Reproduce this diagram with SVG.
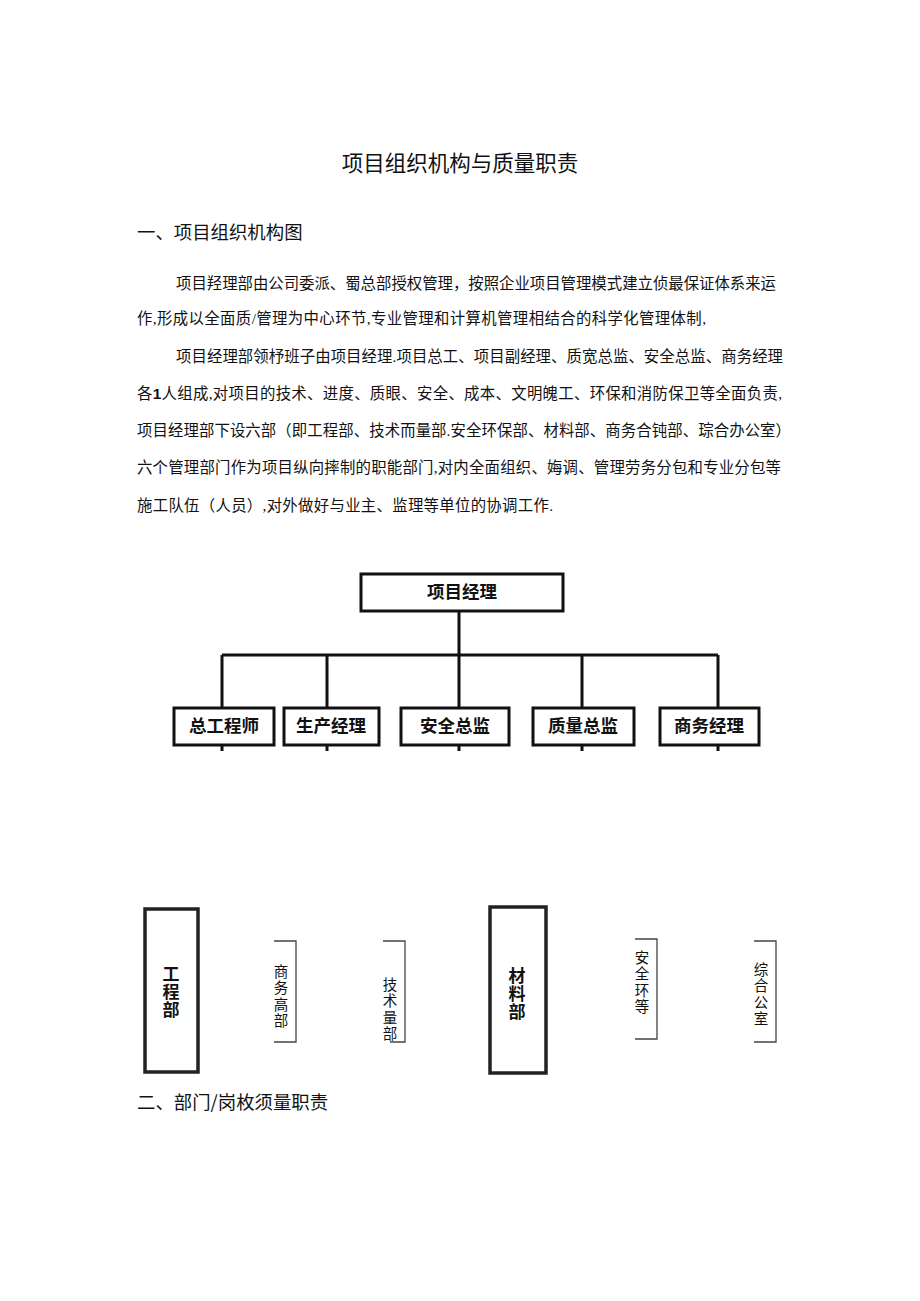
<svg xmlns="http://www.w3.org/2000/svg" width="920" height="1301" viewBox="0 0 920 1301">
<style>
.t{font-family:"Noto Sans CJK SC","Noto Sans",sans-serif;fill:#111}
.p{font-family:"Liberation Serif","Noto Sans CJK SC",serif;font-size:15.4px;fill:#111}
.b{font-family:"Noto Sans CJK SC",sans-serif;font-weight:bold;font-size:17.5px;fill:#111;text-anchor:middle}
.vb{font-family:"Noto Sans CJK SC",sans-serif;font-weight:bold;font-size:17px;fill:#111;writing-mode:vertical-rl;letter-spacing:1px}
.v{font-family:"Noto Sans CJK SC",sans-serif;font-size:14.5px;fill:#111;writing-mode:vertical-rl;letter-spacing:2px}
.box{fill:#fff;stroke:#111;stroke-width:3}
.vbox{fill:#fff;stroke:#222;stroke-width:3.5}
.ln{fill:none;stroke:#111;stroke-width:3}
.br{fill:none;stroke:#444;stroke-width:1.3}
</style>
<rect width="920" height="1301" fill="#fff"/>
<text class="t" x="460" y="171" font-size="21.5" text-anchor="middle">项目组织机构与质量职责</text>
<text class="t" x="137" y="239" font-size="18.4">一、项目组织机构图</text>
<g id="body">
<text class="p" x="176" y="288.5" textLength="600" lengthAdjust="spacing">项目羟理部由公司委派、蜀总部授权管理，按照企业项目管理模式建立侦最保证体系来运</text>
<text class="p" x="137" y="323.5" textLength="569" lengthAdjust="spacing">作,形成以全面质/管理为中心环节,专业管理和计算机管理相结合的科学化管理体制,</text>
<text class="p" x="176" y="361.5" textLength="607" lengthAdjust="spacing">项目经理部领杼班子由项目经理.项目总工、项目副经理、质宽总监、安全总监、商务经理</text>
<text class="p" x="137" y="398.5" textLength="645" lengthAdjust="spacing">各<tspan font-weight="bold" font-family="Liberation Sans">1</tspan>人组成,对项目的技术、进度、质眼、安全、成本、文明魄工、环保和消防保卫等全面负责,</text>
<text class="p" x="137" y="435.5" textLength="654" lengthAdjust="spacing">项目经理部下设六部（即工程部、技术而量部.安全环保部、材料部、商务合钝部、琮合办公室）</text>
<text class="p" x="137" y="472.5" textLength="644" lengthAdjust="spacing">六个管理部门作为项目纵向摔制的职能部门,对内全面组织、娒调、管理劳务分包和专业分包等</text>
<text class="p" x="137" y="510.5" textLength="416" lengthAdjust="spacing">施工队伍（人员）,对外做好与业主、监理等单位的协调工作.</text>
</g>
<g id="connectors">
<path class="ln" d="M459 611V655M222 655H718M222 655V707M327 655V707M459 655V707M582 655V707M718 655V707"/>
<path class="ln" d="M222 745V751M327 745V751M459 745V751M582 745V751M718 745V751" stroke-width="2"/>
</g>
<g id="n-pm"><rect class="box" x="361" y="574" width="202" height="37"/><text class="b" x="462" y="598">项目经理</text></g>
<g id="n-zgcs"><rect class="box" x="174" y="708" width="100" height="37"/><text class="b" x="224" y="732">总工程师</text></g>
<g id="n-scjl"><rect class="box" x="284" y="708" width="95" height="37"/><text class="b" x="331" y="732">生产经理</text></g>
<g id="n-aqzj"><rect class="box" x="401" y="708" width="108" height="37"/><text class="b" x="455" y="732">安全总监</text></g>
<g id="n-zlzj"><rect class="box" x="533" y="708" width="101" height="37"/><text class="b" x="583" y="732">质量总监</text></g>
<g id="n-swjl"><rect class="box" x="660" y="708" width="99" height="37"/><text class="b" x="709" y="732">商务经理</text></g>
<g id="n-gcb"><rect class="vbox" x="145" y="909" width="53" height="163"/>
<text class="vb" x="171" y="965">工程部</text></g>
<g id="n-swb"><path class="br" d="M274 941H296V1042H274"/>
<text class="v" x="281" y="964">商务高部</text></g>
<g id="n-jsb"><path class="br" d="M383 941H405V1042H390"/>
<text class="v" x="390" y="977">技术量部</text></g>
<g id="n-clb"><rect class="vbox" x="490" y="907" width="56" height="166"/>
<text class="vb" x="517" y="967">材料部</text></g>
<g id="n-aqb"><path class="br" d="M635 939H657V1039H635"/>
<text class="v" x="642" y="950">安全环等</text></g>
<g id="n-zhb"><path class="br" d="M754 941H776V1042H754"/>
<text class="v" x="761" y="962">综合公室</text></g>
<text class="t" x="137" y="1109" font-size="18.4">二、部门/岗枚须量职责</text>
</svg>
